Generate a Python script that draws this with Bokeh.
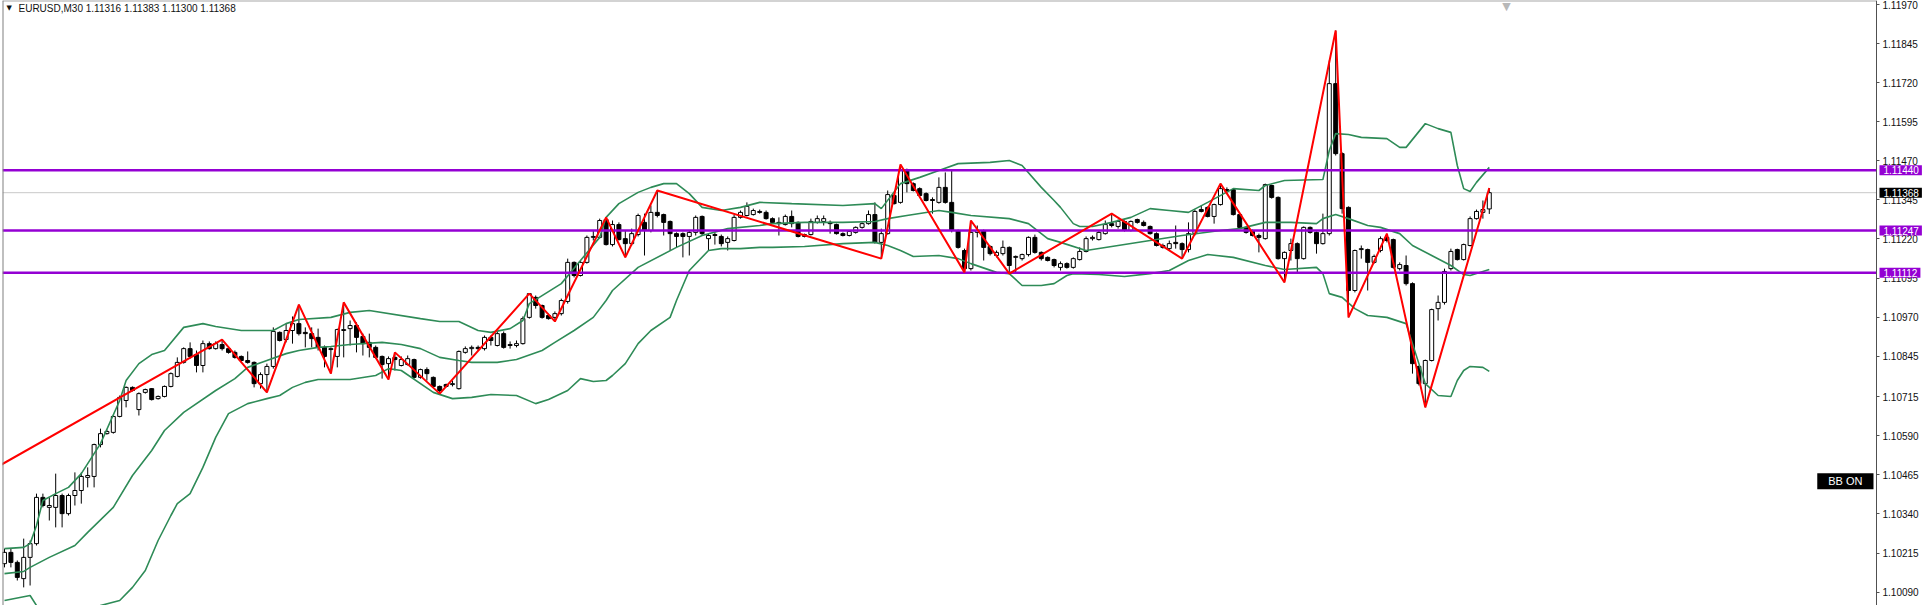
from bokeh.plotting import figure
from bokeh.models import Range1d, Span, Label, FixedTicker, PrintfTickFormatter, ColumnDataSource
from bokeh.embed import file_html
from bokeh.resources import INLINE

# ---------------- data (EURUSD, M30) ----------------
opens = [1.10181,1.10217,1.10185,1.10133,1.10201,1.10245,1.10393,1.10361,1.10361,1.10399,
 1.10341,1.10399,1.10415,1.10457,1.10460,1.10562,1.10597,1.10601,1.10652,1.10703,
 1.10745,1.10674,1.10729,1.10741,1.10709,1.10716,1.10748,1.10780,1.10825,1.10869,
 1.10850,1.10815,1.10885,1.10869,1.10882,1.10869,1.10857,1.10844,1.10831,1.10825,
 1.10757,1.10786,1.10812,1.10921,1.10898,1.10927,1.10949,1.10921,1.10917,1.10905,
 1.10873,1.10866,1.10844,1.10927,1.10933,1.10943,1.10908,1.10889,1.10873,1.10844,
 1.10821,1.10841,1.10815,1.10818,1.10834,1.10777,1.10802,1.10777,1.10748,1.10754,
 1.10754,1.10741,1.10857,1.10869,1.10873,1.10869,1.10905,1.10879,1.10917,1.10882,
 1.10879,1.10885,1.10969,1.11033,1.11007,1.10975,1.10969,1.10981,1.11020,1.11145,
 1.11103,1.11145,1.11225,1.11225,1.11282,1.11202,1.11266,1.11221,1.11205,1.11234,
 1.11273,1.11247,1.11305,1.11298,1.11276,1.11237,1.11237,1.11228,1.11241,1.11292,
 1.11221,1.11234,1.11228,1.11209,1.11215,1.11289,1.11295,1.11298,1.11308,1.11305,
 1.11285,1.11273,1.11266,1.11292,1.11273,1.11228,1.11234,1.11273,1.11276,1.11273,
 1.11266,1.11237,1.11231,1.11241,1.11257,1.11269,1.11298,1.11209,1.11237,1.11359,
 1.11337,1.11442,1.11397,1.11381,1.11365,1.11346,1.11337,1.11385,1.11337,1.11247,
 1.11183,1.11125,1.11241,1.11247,1.11196,1.11167,1.11173,1.11193,1.11161,1.11157,
 1.11170,1.11225,1.11177,1.11161,1.11154,1.11129,1.11141,1.11129,1.11154,1.11180,
 1.11221,1.11218,1.11237,1.11269,1.11260,1.11276,1.11247,1.11282,1.11273,1.11260,
 1.11237,1.11199,1.11189,1.11209,1.11205,1.11186,1.11237,1.11314,1.11321,1.11292,
 1.11330,1.11378,1.11378,1.11298,1.11257,1.11247,1.11231,1.11221,1.11391,1.11353,
 1.11157,1.11183,1.11205,1.11157,1.11257,1.11241,1.11205,1.11237,1.11717,1.11493,
 1.11321,1.11055,1.11186,1.11186,1.11145,1.11183,1.11225,1.11218,1.11125,1.11135,
 1.11077,1.10812,1.10757,1.10831,1.10997,1.11017,1.11125,1.11186,1.11154,1.11199,
 1.11285,1.11305,1.11316]
highs = [1.10229,1.10229,1.10191,1.10261,1.10255,1.10405,1.10405,1.10393,1.10469,1.10405,
 1.10405,1.10473,1.10473,1.10489,1.10565,1.10613,1.10610,1.10655,1.10719,1.10748,
 1.10748,1.10729,1.10741,1.10743,1.10719,1.10751,1.10793,1.10841,1.10873,1.10889,
 1.10863,1.10895,1.10892,1.10892,1.10898,1.10873,1.10863,1.10847,1.10860,1.10828,
 1.10793,1.10821,1.10937,1.10924,1.10949,1.10972,1.11010,1.10937,1.10937,1.10933,
 1.10879,1.10873,1.10933,1.11017,1.10959,1.10953,1.10917,1.10917,1.10879,1.10847,
 1.10844,1.10857,1.10844,1.10847,1.10837,1.10805,1.10809,1.10780,1.10751,1.10757,
 1.10767,1.10863,1.10876,1.10879,1.10879,1.10911,1.10911,1.10924,1.10924,1.10892,
 1.10895,1.10972,1.11045,1.11039,1.11010,1.10981,1.10988,1.11029,1.11157,1.11148,
 1.11151,1.11231,1.11247,1.11285,1.11289,1.11279,1.11273,1.11247,1.11253,1.11301,
 1.11301,1.11327,1.11375,1.11301,1.11279,1.11241,1.11241,1.11247,1.11295,1.11295,
 1.11237,1.11241,1.11234,1.11228,1.11298,1.11311,1.11337,1.11317,1.11314,1.11311,
 1.11289,1.11289,1.11298,1.11311,1.11276,1.11237,1.11285,1.11295,1.11295,1.11279,
 1.11269,1.11241,1.11247,1.11260,1.11273,1.11311,1.11337,1.11253,1.11375,1.11365,
 1.11458,1.11445,1.11401,1.11385,1.11369,1.11353,1.11417,1.11433,1.11439,1.11250,
 1.11189,1.11279,1.11263,1.11250,1.11199,1.11183,1.11215,1.11196,1.11167,1.11173,
 1.11228,1.11234,1.11180,1.11164,1.11157,1.11148,1.11145,1.11161,1.11193,1.11228,
 1.11231,1.11247,1.11279,1.11301,1.11282,1.11279,1.11279,1.11285,1.11279,1.11263,
 1.11241,1.11205,1.11215,1.11263,1.11209,1.11273,1.11314,1.11327,1.11324,1.11333,
 1.11397,1.11385,1.11381,1.11301,1.11260,1.11250,1.11237,1.11397,1.11394,1.11356,
 1.11180,1.11221,1.11209,1.11260,1.11260,1.11244,1.11301,1.11791,1.11887,1.11497,
 1.11324,1.11186,1.11199,1.11189,1.11170,1.11228,1.11237,1.11221,1.11145,1.11167,
 1.11081,1.10815,1.10834,1.10997,1.11039,1.11125,1.11189,1.11189,1.11205,1.11292,
 1.11314,1.11343,1.11383]
lows = [1.10169,1.10169,1.10127,1.10105,1.10111,1.10239,1.10361,1.10319,1.10297,1.10297,
 1.10335,1.10367,1.10373,1.10425,1.10425,1.10553,1.10594,1.10597,1.10649,1.10681,
 1.10732,1.10655,1.10725,1.10703,1.10706,1.10713,1.10745,1.10777,1.10821,1.10837,
 1.10793,1.10793,1.10866,1.10866,1.10863,1.10853,1.10837,1.10828,1.10821,1.10745,
 1.10741,1.10729,1.10805,1.10892,1.10889,1.10885,1.10911,1.10873,1.10873,1.10863,
 1.10809,1.10789,1.10809,1.10841,1.10879,1.10857,1.10847,1.10841,1.10837,1.10773,
 1.10770,1.10799,1.10812,1.10815,1.10773,1.10773,1.10767,1.10745,1.10725,1.10745,
 1.10748,1.10738,1.10853,1.10847,1.10863,1.10863,1.10879,1.10876,1.10869,1.10869,
 1.10873,1.10882,1.10965,1.10997,1.10965,1.10962,1.10956,1.10975,1.11013,1.11097,
 1.11100,1.11141,1.11215,1.11221,1.11199,1.11196,1.11215,1.11161,1.11199,1.11228,
 1.11167,1.11241,1.11289,1.11231,1.11183,1.11193,1.11161,1.11167,1.11231,1.11231,
 1.11183,1.11202,1.11196,1.11183,1.11212,1.11285,1.11292,1.11295,1.11301,1.11282,
 1.11269,1.11231,1.11263,1.11257,1.11225,1.11225,1.11231,1.11269,1.11263,1.11237,
 1.11234,1.11228,1.11228,1.11237,1.11253,1.11266,1.11205,1.11157,1.11234,1.11330,
 1.11333,1.11369,1.11372,1.11356,1.11340,1.11301,1.11333,1.11333,1.11241,1.11189,
 1.11113,1.11119,1.11225,1.11151,1.11167,1.11161,1.11167,1.11109,1.11113,1.11151,
 1.11164,1.11173,1.11151,1.11148,1.11129,1.11119,1.11125,1.11125,1.11151,1.11177,
 1.11215,1.11215,1.11234,1.11257,1.11253,1.11244,1.11244,1.11269,1.11260,1.11234,
 1.11196,1.11189,1.11183,1.11189,1.11157,1.11177,1.11231,1.11305,1.11289,1.11269,
 1.11327,1.11369,1.11295,1.11253,1.11237,1.11228,1.11177,1.11218,1.11349,1.11154,
 1.11081,1.11151,1.11113,1.11154,1.11237,1.11173,1.11202,1.11231,1.11487,1.11301,
 1.10969,1.11049,1.11157,1.11055,1.11141,1.11177,1.11209,1.11125,1.11119,1.11071,
 1.10789,1.10751,1.10681,1.10828,1.10959,1.11010,1.11119,1.11151,1.11151,1.11196,
 1.11282,1.11285,1.11300]
closes = [1.10217,1.10185,1.10137,1.10201,1.10245,1.10393,1.10367,1.10367,1.10399,1.10341,
 1.10399,1.10415,1.10460,1.10463,1.10562,1.10597,1.10604,1.10652,1.10713,1.10745,
 1.10735,1.10725,1.10738,1.10706,1.10716,1.10748,1.10789,1.10825,1.10869,1.10844,
 1.10815,1.10885,1.10869,1.10885,1.10869,1.10857,1.10841,1.10831,1.10825,1.10757,
 1.10786,1.10812,1.10924,1.10895,1.10927,1.10949,1.10917,1.10917,1.10901,1.10873,
 1.10844,1.10869,1.10930,1.10930,1.10943,1.10905,1.10885,1.10873,1.10841,1.10818,
 1.10837,1.10834,1.10834,1.10837,1.10777,1.10802,1.10789,1.10748,1.10735,1.10748,
 1.10757,1.10860,1.10869,1.10873,1.10869,1.10905,1.10895,1.10917,1.10873,1.10879,
 1.10885,1.10965,1.11045,1.11007,1.10969,1.10965,1.10981,1.11023,1.11145,1.11103,
 1.11145,1.11225,1.11228,1.11279,1.11202,1.11266,1.11218,1.11205,1.11237,1.11295,
 1.11247,1.11305,1.11295,1.11273,1.11237,1.11228,1.11228,1.11241,1.11289,1.11237,
 1.11231,1.11231,1.11205,1.11221,1.11289,1.11305,1.11324,1.11311,1.11305,1.11285,
 1.11273,1.11269,1.11292,1.11269,1.11228,1.11234,1.11276,1.11285,1.11285,1.11269,
 1.11237,1.11231,1.11244,1.11257,1.11269,1.11298,1.11209,1.11237,1.11362,1.11333,
 1.11439,1.11397,1.11375,1.11359,1.11343,1.11343,1.11385,1.11337,1.11247,1.11193,
 1.11125,1.11241,1.11247,1.11193,1.11173,1.11177,1.11193,1.11135,1.11164,1.11170,
 1.11225,1.11177,1.11157,1.11151,1.11135,1.11141,1.11129,1.11157,1.11180,1.11221,
 1.11225,1.11241,1.11266,1.11263,1.11276,1.11247,1.11276,1.11273,1.11263,1.11237,
 1.11199,1.11193,1.11205,1.11205,1.11186,1.11237,1.11308,1.11308,1.11292,1.11330,
 1.11381,1.11372,1.11298,1.11257,1.11241,1.11231,1.11225,1.11394,1.11353,1.11157,
 1.11177,1.11205,1.11157,1.11257,1.11241,1.11205,1.11237,1.11717,1.11493,1.11317,
 1.11055,1.11183,1.11189,1.11145,1.11164,1.11221,1.11215,1.11129,1.11138,1.11077,
 1.10821,1.10757,1.10831,1.10994,1.11017,1.11116,1.11180,1.11154,1.11202,1.11285,
 1.11308,1.11314,1.11368]

# Bollinger bands, read at these bar numbers
bb_upper_idx = [0,3,4,5,6,8,10,12,15,18,19,21,23,25,28,31,33,37,42,44,46,51,54,57,65,68,71,74,76,79,
 81,82,87,90,93,94,96,99,101,103,105,107,109,112,115,118,123,131,136,137,140,143,146,149,154,157,159,162,164,165,
 167,168,170,173,176,179,182,185,188,192,196,197,200,206,207,208,210,212,216,218,219,222,224,226,227,228,229,230,232]
bb_upper = [1.10229,1.10233,1.10245,1.10303,1.10383,1.10405,1.10425,1.10469,1.10565,1.10703,
 1.10767,1.10821,1.10850,1.10863,1.10937,1.10949,1.10940,1.10927,1.10927,1.10949,
 1.10962,1.10969,1.10985,1.10991,1.10965,1.10956,1.10956,1.10927,1.10921,1.10933,
 1.10959,1.11013,1.11077,1.11151,1.11225,1.11289,1.11333,1.11369,1.11385,1.11397,
 1.11397,1.11365,1.11321,1.11311,1.11321,1.11337,1.11333,1.11327,1.11333,1.11317,
 1.11397,1.11417,1.11439,1.11461,1.11465,1.11471,1.11455,1.11385,1.11343,1.11321,
 1.11269,1.11260,1.11260,1.11273,1.11289,1.11317,1.11311,1.11305,1.11337,
 1.11381,1.11375,1.11391,1.11407,1.11410,1.11503,1.11557,1.11554,1.11545,1.11541,
 1.11513,1.11513,1.11589,1.11573,1.11561,1.11455,1.11381,1.11372,1.11401,1.11449]
bb_mid_idx = [0,3,4,7,11,13,17,20,23,25,28,33,36,38,41,44,46,49,51,54,59,62,65,68,71,73,77,80,84,86,
 89,92,94,95,99,105,109,113,118,120,125,131,136,138,141,146,148,151,157,160,163,165,169,174,179,184,190,193,197,201,
 205,206,208,210,213,215,218,220,223,226,228,229,231,232]
bb_mid = [1.10149,1.10156,1.10169,1.10201,1.10239,1.10281,1.10361,1.10463,1.10543,1.10607,
 1.10665,1.10735,1.10773,1.10809,1.10831,1.10853,1.10863,1.10873,1.10876,1.10882,
 1.10889,1.10882,1.10869,1.10841,1.10831,1.10825,1.10825,1.10834,1.10863,1.10889,
 1.10927,1.10969,1.11023,1.11055,1.11129,1.11193,1.11231,1.11253,1.11263,1.11269,
 1.11273,1.11273,1.11276,1.11285,1.11295,1.11311,1.11305,1.11295,1.11285,1.11269,
 1.11221,1.11209,1.11183,1.11199,1.11215,1.11231,1.11247,1.11253,1.11273,1.11273,
 1.11269,1.11285,1.11298,1.11285,1.11263,1.11257,1.11237,1.11199,1.11167,1.11135,
 1.11106,1.11103,1.11116,1.11122]
bb_lower_idx = [0,4,5,9,13,15,18,20,22,24,26,27,29,31,33,35,38,41,43,45,47,49,54,58,60,62,67,70,73,76,
 80,83,85,88,90,92,94,95,97,99,101,104,105,107,110,112,115,118,120,125,131,136,138,140,142,146,149,151,155,157,
 159,162,164,166,167,171,175,179,182,185,188,192,197,200,205,206,207,209,211,213,216,219,220,222,224,226,227,228,229,231,232]
bb_lower = [1.10063,1.10079,1.10047,1.09983,1.10015,1.10047,1.10063,1.10105,1.10159,1.10255,
 1.10335,1.10373,1.10405,1.10489,1.10585,1.10661,1.10693,1.10709,1.10719,1.10745,
 1.10761,1.10770,1.10770,1.10783,1.10805,1.10799,1.10729,1.10709,1.10713,1.10722,
 1.10719,1.10693,1.10706,1.10735,1.10773,1.10764,1.10767,1.10783,1.10821,1.10885,
 1.10927,1.10969,1.11023,1.11119,1.11183,1.11189,1.11189,1.11193,1.11193,1.11196,
 1.11205,1.11209,1.11199,1.11183,1.11164,1.11167,1.11157,1.11141,1.11113,1.11109,
 1.11071,1.11071,1.11077,1.11103,1.11109,1.11106,1.11100,1.11109,1.11119,1.11151,
 1.11170,1.11161,1.11135,1.11122,1.11129,1.11109,1.11045,1.11033,1.10997,1.10975,
 1.10969,1.10949,1.10885,1.10757,1.10719,1.10716,1.10767,1.10799,1.10812,1.10809,
 1.10796]

# ZigZag pivots
zz_idx = [-1,34,41,46,51,53,60,61,68,82,86,94,97,102,137,140,150,151,157,173,184,190,200,208,210,216,222,232]
zz_price = [1.10492,1.10898,1.10729,1.11010,1.10789,1.11017,1.10770,1.10857,1.10725,1.11045,1.10956,
 1.11289,1.11161,1.11375,1.11157,1.11458,1.11113,1.11279,1.11109,1.11301,1.11157,1.11397,1.11081,
 1.11887,1.10969,1.11237,1.10681,1.11383]

levels = [1.11440, 1.11247, 1.11112]
last_price = 1.11368
price_ticks = [1.11970,1.11845,1.11720,1.11595,1.11470,1.11345,1.11220,1.11095,
               1.10970,1.10845,1.10715,1.10590,1.10465,1.10340,1.10215,1.10090]
title_text = "EURUSD,M30  1.11316 1.11383 1.11300 1.11368"
bb_flag_text = "BB ON"
bb_flag_price = 1.10445

# ---------------- figure ----------------
x_start, x_end = -0.3125, 300.47   # frame spans the whole width
axis_x = 292.5                       # where the price scale sits
y_start, y_end = 1.10047, 1.11983

p = figure(width=1927, height=605, output_backend="svg", toolbar_location=None,
           x_range=Range1d(x_start, x_end), y_range=Range1d(y_start, y_end),
           x_axis_location=None, y_axis_location="right",
           min_border_left=2, min_border_right=0, min_border_top=0, min_border_bottom=0)
p.grid.visible = False
p.outline_line_color = None
p.background_fill_color = "white"
p.border_fill_color = "white"

ax = p.yaxis[0]
ax.fixed_location = axis_x
ax.ticker = FixedTicker(ticks=price_ticks)
ax.formatter = PrintfTickFormatter(format="%.5f")
ax.major_tick_out = 3
ax.major_tick_in = 0
ax.minor_tick_line_color = None
ax.major_label_standoff = 3
ax.axis_line_color = "#505050"
ax.major_tick_line_color = "#505050"
ax.major_label_text_font = "Liberation Sans"
ax.major_label_text_font_size = "10px"
ax.major_label_text_color = "#111111"

# frame borders (left / top)
p.add_layout(Span(location=x_start, dimension="height", line_color="#808080", line_width=2))
p.segment(x0=[x_start], y0=[y_end], x1=[axis_x], y1=[y_end], line_color="#A8A8A8", line_width=2)

# current price line
p.segment(x0=[x_start], y0=[last_price], x1=[axis_x], y1=[last_price],
          line_color="#C8C8C8", line_width=1)

# candles
n = len(opens)
bull = dict(x=[], top=[], bottom=[], hi=[], lo=[])
bear = dict(x=[], top=[], bottom=[], hi=[], lo=[])
for i in range(n):
    d = bull if closes[i] >= opens[i] else bear
    d["x"].append(i)
    d["top"].append(max(opens[i], closes[i]))
    d["bottom"].append(min(opens[i], closes[i]))
    d["hi"].append(highs[i])
    d["lo"].append(lows[i])
sb, ss = ColumnDataSource(bull), ColumnDataSource(bear)
for s in (sb, ss):
    p.segment(x0="x", y0="lo", x1="x", y1="hi", source=s, line_color="black", line_width=1)
p.vbar(x="x", width=0.62, top="top", bottom="bottom", source=sb,
       fill_color="white", line_color="black", line_width=1)
p.vbar(x="x", width=0.62, top="top", bottom="bottom", source=ss,
       fill_color="black", line_color="black", line_width=1)

# Bollinger bands
bb_col = "#2E8B57"
p.line(bb_upper_idx, bb_upper, line_color=bb_col, line_width=1.6)
p.line(bb_mid_idx, bb_mid, line_color=bb_col, line_width=1.6)
p.line(bb_lower_idx, bb_lower, line_color=bb_col, line_width=1.6)

# horizontal levels
purple = "#9400D3"
p.segment(x0=[x_start] * len(levels), y0=levels, x1=[axis_x] * len(levels), y1=levels,
          line_color=purple, line_width=2.5)

# zigzag
p.line(zz_idx, zz_price, line_color="#FF0000", line_width=2)

# price-axis tags
pad = dict(left=4, right=3, top=1, bottom=1)
for lv in levels:
    p.add_layout(Label(x=axis_x, y=lv, x_offset=3, text=f"{lv:.5f}", text_align="left",
                       text_baseline="middle", text_color="white", text_font="Liberation Sans",
                       text_font_size="10px", background_fill_color=purple, padding=pad))
p.add_layout(Label(x=axis_x, y=last_price, x_offset=3, text=f"{last_price:.5f}", text_align="left",
                   text_baseline="middle", text_color="white", text_font="Liberation Sans",
                   text_font_size="10px", background_fill_color="black", padding=pad))

# BB ON flag
p.add_layout(Label(x=axis_x, y=bb_flag_price, x_offset=-3, text=bb_flag_text, text_align="right",
                   text_baseline="middle", text_color="white", text_font="Liberation Sans",
                   text_font_size="11px", background_fill_color="black",
                   padding=dict(left=11, right=11, top=2, bottom=2)))

# title
p.add_layout(Label(x=x_start, y=y_end, x_offset=4, y_offset=-7, text="\u25BC", text_align="left",
                   text_baseline="middle", text_color="#111111", text_font="DejaVu Sans",
                   text_font_size="7px"))
p.add_layout(Label(x=x_start, y=y_end, x_offset=16, y_offset=-8, text=title_text, text_align="left",
                   text_baseline="middle", text_color="#111111", text_font="Liberation Sans",
                   text_font_size="10px"))
# chart-shift marker
p.add_layout(Label(x=axis_x, y=y_end, x_offset=-370, y_offset=1, text="\u25BC", text_align="center",
                   text_baseline="top", text_color="#B8B8B8", text_font="DejaVu Sans",
                   text_font_size="11px"))

open("out.html", "w").write(file_html(p, INLINE))
